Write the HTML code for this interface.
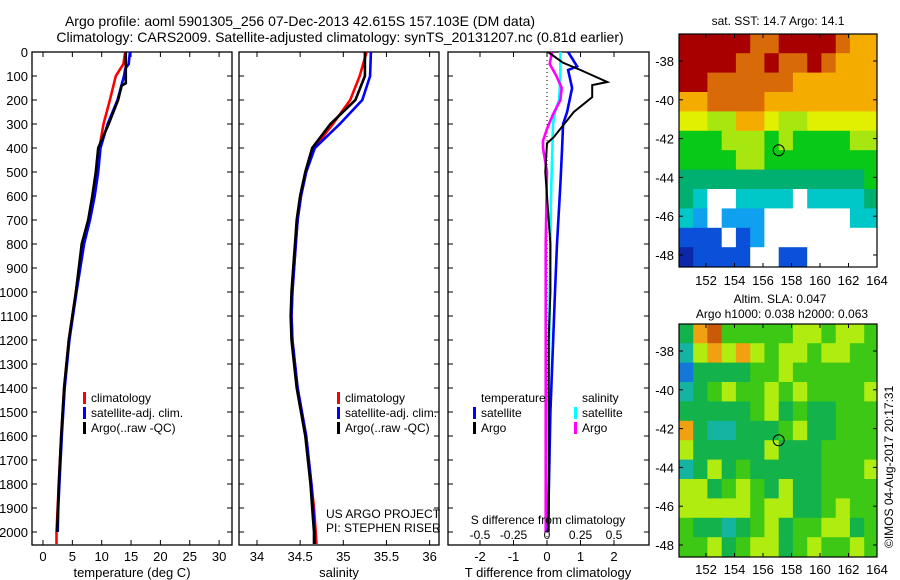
<!DOCTYPE html>
<html><head><meta charset="utf-8">
<style>
html,body{margin:0;padding:0;background:#fff;}
svg{display:block;font-family:"Liberation Sans",sans-serif;}
text{fill:#000;}
</style></head>
<body>
<svg id="fig" width="900" height="580" viewBox="0 0 900 580" xmlns="http://www.w3.org/2000/svg">
<rect width="900" height="580" fill="#fff"/>
<text x="300" y="26" font-size="14" text-anchor="middle">Argo profile: aoml 5901305_256 07-Dec-2013 42.615S 157.103E (DM data)</text>
<text x="340" y="42" font-size="14" text-anchor="middle">Climatology: CARS2009. Satellite-adjusted climatology: synTS_20131207.nc (0.81d earlier)</text>
<g id="g1"></g>
<g id="g2"></g>
<g id="g3"></g>
<g id="m1"></g>
<g id="m2"></g>
<text x="778" y="25" font-size="12" text-anchor="middle">sat. SST: 14.7 Argo: 14.1</text>
<text x="780" y="303" font-size="12" text-anchor="middle">Altim. SLA: 0.047</text>
<text x="782" y="318" font-size="12" text-anchor="middle">Argo h1000: 0.038 h2000: 0.063</text>
<text transform="translate(893,548) rotate(-90)" font-size="12">©IMOS 04-Aug-2017 20:17:31</text>
</svg>
<script>
// ---------- data ----------
const tempDepth = [0,50,100,130,140,200,300,400,500,600,700,800,1000,1200,1400,1600,1800,2000];
const tempArgo  = [14.1,14.1,14.1,14.1,13.4,12.8,11.2,9.4,9.0,8.4,7.7,6.6,5.6,4.4,3.6,3.1,2.7,2.4];
const climDepth = [0,50,100,200,300,400,500,600,700,800,1000,1200,1400,1600,1800,2000,2050];
const tempClim  = [14.0,13.7,12.4,11.4,10.3,9.6,9.2,8.6,7.8,6.8,5.6,4.4,3.6,3.1,2.7,2.3,2.3];
const satDepth  = [0,50,70,100,200,300,400,500,600,700,800,1000,1200,1400,1600,1800,1900,2000];
const tempSat   = [14.8,14.6,14.0,13.8,12.7,11.0,9.8,9.4,8.8,8.0,7.0,5.7,4.5,3.7,3.2,2.8,2.6,2.5];
const salDepth  = [0,100,200,300,400,500,600,700,800,900,1000,1100,1200,1300,1400,1500,1600,1700,1800,1900,2000,2050];
const salArgo   = [35.25,35.25,35.14,34.85,34.64,34.56,34.50,34.46,34.44,34.42,34.40,34.39,34.40,34.43,34.46,34.51,34.56,34.59,34.62,34.64,34.66,34.66];
const salClim   = [35.27,35.19,35.08,34.88,34.66,34.57,34.51,34.47,34.45,34.43,34.41,34.40,34.41,34.44,34.47,34.52,34.57,34.60,34.63,34.66,34.68,34.69];
const salSat    = [35.32,35.31,35.22,34.96,34.67,34.57,34.51,34.47,34.45,34.43,34.41,34.40,34.41,34.44,34.47,34.52,34.57,34.60,34.63,34.65,34.67,34.67];
const dTDepth   = [0,45,75,125,138,188,250,355,380,500,800,1000,1200,1400,1600,1800,2000];
const dTArgo    = [0.03,0.48,1.0,1.8,1.35,1.35,0.8,0.2,0.0,-0.05,0.1,0.1,0.05,0.05,0.06,0.06,0.05];
const dTSatDepth= [0,60,75,150,250,300,400,550,800,1000,1500,2000];
const dTSat     = [0.63,0.9,0.63,0.75,0.6,0.48,0.45,0.4,0.3,0.24,0.1,0.03];
const dSDepth   = [0,50,100,150,200,260,320,370,400,500,800,1200,1600,2000];
const dSArgo    = [0.037,0.02,0.07,0.11,0.1,0.045,0.0,-0.03,-0.03,0.0,-0.01,-0.01,-0.01,-0.01];
const dSSatDepth= [0,100,200,250,300,400,600,1000,1500,2000];
const dSSat     = [0.1,0.1,0.09,0.06,0.045,0.04,0.03,0.02,0.01,0.0];
const depthTicks= [0,100,200,300,400,500,600,700,800,900,1000,1100,1200,1300,1400,1500,1600,1700,1800,1900,2000];
const tempTicks = [0,5,10,15,20,25,30];
const salTicks  = [34,34.5,35,35.5,36];
const salTickLabels = ["34","34.5","35","35.5","36"];
const dTTicks   = [-2,-1,0,1,2];
const dSTicks   = [-0.5,-0.25,0,0.25,0.5];
const dSTickLabels = ["-0.5","-0.25","0","0.25","0.5"];
const mapLonTicks = [152,154,156,158,160,162,164];
const mapLatTicks = [-38,-40,-42,-44,-46,-48];
const argoLon = 157.1, argoLat = -42.6;
const sstRows = [
 "RRRRROORRRROoo","RRRROOROOROooo","RROOOOOOoooooo","ooOOOOoooooooo",
 "YYyyooYyyYYYYY","GGGyyyGyGGGGyy","GGGGyyGGGGGGGG","gggggggggggggG",
 "gcWWccccWccccg","cbWbbbWWWWWWcc","BBBWBbWWWWWWWW","DBBBBWWBBWWWWW"];
const slaRows = [
 "gorGGGGGyyGyyG","tyoyoyGyyGyyGG","bggggGGyGGGGGG","tgGyGGyGyGGGGy",
 "gggggGygGggGGG","ogttgggGyggGGG","ygggggygggGGGG","tgygGgggggGGGy",
 "yygGyGgyggGGGG","yyyyyGyyggGyGG","GggtgGygGGyygG","GGygGyygGyGGyG"];
const sstColors = {R:"#a80000",O:"#d86a08",o:"#f5ac00",Y:"#e0f000",y:"#a8e610",G:"#08c818",g:"#00b070",c:"#00c8c8",b:"#10a0f0",B:"#0a50d8",D:"#0a28a8",W:"#ffffff"};
const slaColors = {G:"#3cc814",g:"#14b24a",y:"#b0ec10",o:"#f0a010",r:"#c85a08",t:"#14b4a0",b:"#1478d8"};

// ---------- helpers ----------
const NS="http://www.w3.org/2000/svg";
function mk(parent,tag,attrs){const e=document.createElementNS(NS,tag);for(const k in attrs)e.setAttribute(k,attrs[k]);parent.appendChild(e);return e;}
function txt(parent,x,y,s,size,anchor){const t=mk(parent,"text",{x:x,y:y,"font-size":size,"text-anchor":anchor||"middle"});t.textContent=s;return t;}
const top0=52, bot0=545;
function yD(d){return top0+d*0.24;}

function panel(g,x0,x1,name){
  const r=mk(g,"rect",{x:x0,y:top0,width:x1-x0,height:bot0-top0,fill:"none",stroke:"#000","stroke-width":1.3});
  
  
}
function depthAxis(g,x0,x1,labels){
  depthTicks.forEach(d=>{
    const y=yD(d);
    mk(g,"line",{x1:x0,x2:x0+5,y1:y,y2:y,stroke:"#000"});
    mk(g,"line",{x1:x1-5,x2:x1,y1:y,y2:y,stroke:"#000"});
    if(labels){const t=txt(g,x0-4,y+5,String(d),13,"end");
      
      }
  });
}
function xAxis(g,ticks,labels,fx,yb,size){
  ticks.forEach((v,i)=>{
    const x=fx(v);
    mk(g,"line",{x1:x,x2:x,y1:bot0-5,y2:bot0,stroke:"#000"});
    mk(g,"line",{x1:x,x2:x,y1:top0,y2:top0+5,stroke:"#000"});
    const t=txt(g,x,yb,labels[i],size||13);
    
    
  });
}
function line(g,depths,vals,fx,color,name,w){
  const pts=depths.map((d,i)=>fx(vals[i]).toFixed(1)+","+yD(d).toFixed(1)).join(" ");
  const p=mk(g,"polyline",{points:pts,fill:"none",stroke:color,"stroke-width":w||2.6,"stroke-linejoin":"miter"});
  
  
}
function legend(g,x,y,color,label){
  if(color) mk(g,"rect",{x:x,y:y-10,width:3,height:12,fill:color});
  const t=txt(g,x+8,y,label,12,"start");
  
  
}

// ---------- panel 1: temperature ----------
const g1=document.getElementById("g1");
const fT=v=>43+v*5.87;
panel(g1,32,232,"temperature-panel");
depthAxis(g1,32,232,true);
xAxis(g1,tempTicks,tempTicks.map(String),fT,561);
line(g1,climDepth,tempClim,fT,"#ff0000","temp-clim-line");
line(g1,satDepth,tempSat,fT,"#0000ff","temp-sat-line");
line(g1,tempDepth,tempArgo,fT,"#000000","temp-argo-line");
let t=txt(g1,132,577,"temperature (deg C)",13);


legend(g1,83,402,"#ff0000","climatology");
legend(g1,83,417,"#0000ff","satellite-adj. clim.");
legend(g1,83,432,"#000000","Argo(..raw -QC)");

// ---------- panel 2: salinity ----------
const g2=document.getElementById("g2");
const fS=v=>257+(v-34)*86.3;
panel(g2,239,439,"salinity-panel");
depthAxis(g2,239,439,false);
xAxis(g2,salTicks,salTickLabels,fS,561);
line(g2,salDepth,salClim,fS,"#ff0000","sal-clim-line");
line(g2,salDepth,salSat,fS,"#0000ff","sal-sat-line");
line(g2,salDepth,salArgo,fS,"#000000","sal-argo-line");
t=txt(g2,339,577,"salinity",13);


legend(g2,337,402,"#ff0000","climatology");
legend(g2,337,417,"#0000ff","satellite-adj. clim.");
legend(g2,337,432,"#000000","Argo(..raw -QC)");
t=txt(g2,326,518,"US ARGO PROJECT",12,"start");


t=txt(g2,326,532,"PI: STEPHEN RISER",12,"start");



// ---------- panel 3: differences ----------
const g3=document.getElementById("g3");
const fdT=v=>547+v*33.5;
const fdS=v=>547+v*134;
panel(g3,448,649,"difference-panel");
depthAxis(g3,448,649,false);
xAxis(g3,dTTicks,dTTicks.map(String),fdT,561);
mk(g3,"line",{x1:547,x2:547,y1:top0,y2:bot0,stroke:"#000","stroke-dasharray":"1,3"});
line(g3,dSSatDepth,dSSat,fdS,"#00ffff","sdiff-sat-line");
line(g3,dSDepth,dSArgo,fdS,"#ff00ff","sdiff-argo-line");
line(g3,dTSatDepth,dTSat,fdT,"#0000ff","tdiff-sat-line");
line(g3,dTDepth,dTArgo,fdT,"#000000","tdiff-argo-line",2);
dSTicks.forEach((v,i)=>{const tt=txt(g3,fdS(v),539,dSTickLabels[i],12);
  
  });
t=txt(g3,548,524,"S difference from climatology",12);


t=txt(g3,548,577,"T difference from climatology",13);


legend(g3,473,402,null,"temperature");
legend(g3,473,417,"#0000ff","satellite");
legend(g3,473,432,"#000000","Argo");
legend(g3,574,402,null,"salinity");
legend(g3,574,417,"#00ffff","satellite");
legend(g3,574,432,"#ff00ff","Argo");

// ---------- maps ----------
function drawMap(g,topY,rows,colors,name,labY){
  const x0=679,x1=877,bot=topY+233;
  const fx=lon=>706+(lon-152)*14.25;
  const fy=lat=>topY+27+(-38-lat)*19.4;
  rows.forEach((row,ri)=>{
    for(let ci=0;ci<row.length;ci++){
      const lonA=150.1+ci, latA=-36.6-ri;
      const xa=Math.max(x0,fx(lonA)), xb=Math.min(x1,fx(lonA+1));
      const ya=Math.max(topY,fy(latA)), yb=Math.min(bot,fy(latA-1));
      const c=mk(g,"rect",{x:xa.toFixed(1),y:ya.toFixed(1),width:(xb-xa+0.5).toFixed(1),height:(yb-ya+0.5).toFixed(1),fill:colors[row[ci]]});
      
      
    }
  });
  const f=mk(g,"rect",{x:x0,y:topY,width:x1-x0,height:bot-topY,fill:"none",stroke:"#000","stroke-width":1.2});
  
  
  mapLonTicks.forEach(l=>{const x=fx(l);
    mk(g,"line",{x1:x,x2:x,y1:bot,y2:bot-4,stroke:"#000"});
    mk(g,"line",{x1:x,x2:x,y1:topY,y2:topY+4,stroke:"#000"});
    const tt=txt(g,x,labY,String(l),13);
    
    });
  mapLatTicks.forEach(l=>{const y=fy(l);
    mk(g,"line",{x1:x0,x2:x0+4,y1:y,y2:y,stroke:"#000"});
    mk(g,"line",{x1:x1-4,x2:x1,y1:y,y2:y,stroke:"#000"});
    const tt=txt(g,x0-5,y+5,String(l),13,"end");
    
    });
  const c=mk(g,"circle",{cx:fx(argoLon),cy:fy(argoLat),r:5.5,fill:"none",stroke:"#000","stroke-width":1});
  
  
}
drawMap(document.getElementById("m1"),34,sstRows,sstColors,"sst-map",285);
drawMap(document.getElementById("m2"),324,slaRows,slaColors,"sla-map",574);
</script>
</body></html>
